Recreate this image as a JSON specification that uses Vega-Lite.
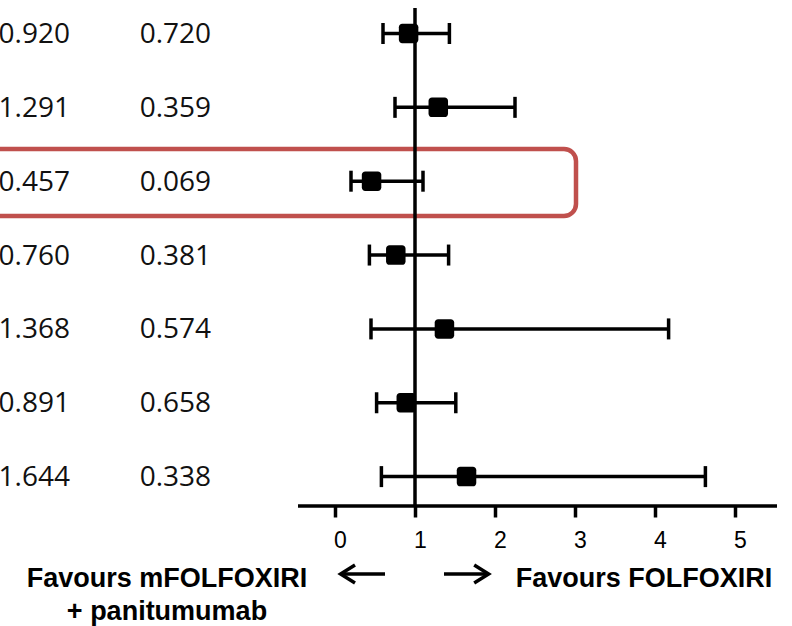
{
  "$schema": "https://vega.github.io/schema/vega-lite/v6.json",
  "width": 792,
  "height": 506,
  "autosize": "none",
  "padding": {"left": 0, "top": 0, "right": 0, "bottom": 120},
  "background": "white",
  "config": {"view": {"stroke": null}},
  "data": {"values": [
    {"row": 1, "hr": 0.920, "lo": 0.60, "hi": 1.43, "hrText": "0.920", "pText": "0.720"},
    {"row": 2, "hr": 1.291, "lo": 0.75, "hi": 2.25, "hrText": "1.291", "pText": "0.359"},
    {"row": 3, "hr": 0.457, "lo": 0.20, "hi": 1.10, "hrText": "0.457", "pText": "0.069"},
    {"row": 4, "hr": 0.760, "lo": 0.43, "hi": 1.42, "hrText": "0.760", "pText": "0.381"},
    {"row": 5, "hr": 1.368, "lo": 0.45, "hi": 4.17, "hrText": "1.368", "pText": "0.574"},
    {"row": 6, "hr": 0.891, "lo": 0.52, "hi": 1.51, "hrText": "0.891", "pText": "0.658"},
    {"row": 7, "hr": 1.644, "lo": 0.58, "hi": 4.63, "hrText": "1.644", "pText": "0.338"}
  ]},
  "layer": [
    {
      "transform": [{"filter": "datum.row == 3"}],
      "mark": {"type": "rect", "fill": null, "fillOpacity": 0, "stroke": "#C0504D", "strokeWidth": 4.5, "cornerRadius": 12},
      "encoding": {
        "x": {"datum": -5, "type": "quantitative", "scale": {"domain": [-4.1875, 5.7125], "nice": false, "zero": false}, "axis": {"values": [0, 1, 2, 3, 4, 5], "format": "d", "domain": false, "grid": false, "title": null, "tickSize": 11, "tickWidth": 3.5, "tickColor": "black", "labelFont": "Liberation Sans", "labelFontSize": 23, "labelColor": "black", "labelPadding": 12, "labelOffset": 5}},
        "x2": {"datum": 3.0125},
        "y": {"datum": 2.564, "type": "quantitative", "scale": {"domain": [0.5464, 7.398], "nice": false, "zero": false, "reverse": true}, "axis": null},
        "y2": {"datum": 3.471}
      }
    },
    {
      "data": {"values": [{}]},
      "mark": {"type": "rule", "color": "black", "strokeWidth": 3.5},
      "encoding": {
        "x": {"datum": 1, "type": "quantitative"},
        "y": {"datum": 0.6547, "type": "quantitative"},
        "y2": {"datum": 7.398}
      }
    },
    {
      "data": {"values": [{}]},
      "mark": {"type": "rule", "color": "black", "strokeWidth": 3.5},
      "encoding": {
        "x": {"datum": -0.4625, "type": "quantitative"},
        "x2": {"datum": 5.525},
        "y": {"datum": 7.398, "type": "quantitative"}
      }
    },
    {
      "mark": {"type": "rule", "color": "black", "strokeWidth": 3.5},
      "encoding": {
        "x": {"field": "lo", "type": "quantitative"},
        "x2": {"field": "hi"},
        "y": {"field": "row", "type": "quantitative"}
      }
    },
    {
      "mark": {"type": "tick", "orient": "vertical", "color": "black", "thickness": 3.5, "size": 21, "opacity": 1},
      "encoding": {
        "x": {"field": "lo", "type": "quantitative"},
        "y": {"field": "row", "type": "quantitative"}
      }
    },
    {
      "mark": {"type": "tick", "orient": "vertical", "color": "black", "thickness": 3.5, "size": 21, "opacity": 1},
      "encoding": {
        "x": {"field": "hi", "type": "quantitative"},
        "y": {"field": "row", "type": "quantitative"}
      }
    },
    {
      "mark": {"type": "point", "shape": "M-0.65,-1H0.65A0.35,0.35 0 0 1 1,-0.65V0.65A0.35,0.35 0 0 1 0.65,1H-0.65A0.35,0.35 0 0 1 -1,0.65V-0.65A0.35,0.35 0 0 1 -0.65,-1Z", "filled": true, "color": "black", "size": 380, "opacity": 1},
      "encoding": {
        "x": {"field": "hr", "type": "quantitative"},
        "y": {"field": "row", "type": "quantitative"}
      }
    },
    {
      "mark": {"type": "text", "font": "Open Sans", "fontSize": 28, "color": "#111", "align": "right", "baseline": "middle", "dy": 1.5},
      "encoding": {
        "x": {"datum": -3.3125, "type": "quantitative"},
        "y": {"field": "row", "type": "quantitative"},
        "text": {"field": "hrText"}
      }
    },
    {
      "mark": {"type": "text", "font": "Open Sans", "fontSize": 28, "color": "#111", "align": "left", "baseline": "middle", "dy": 1.5},
      "encoding": {
        "x": {"datum": -2.4415, "type": "quantitative"},
        "y": {"field": "row", "type": "quantitative"},
        "text": {"field": "pText"}
      }
    },
    {
      "data": {"values": [{"label": ["Favours mFOLFOXIRI", "+ panitumumab"]}]},
      "mark": {"type": "text", "font": "Liberation Sans", "fontWeight": "bold", "fontSize": 27, "color": "black", "align": "center", "baseline": "alphabetic", "lineHeight": 33},
      "encoding": {
        "x": {"datum": -2.1, "type": "quantitative"},
        "y": {"datum": 8.499, "type": "quantitative"},
        "text": {"field": "label"}
      }
    },
    {
      "data": {"values": [{"label": "Favours FOLFOXIRI"}]},
      "mark": {"type": "text", "font": "Liberation Sans", "fontWeight": "bold", "fontSize": 27, "color": "black", "align": "center", "baseline": "alphabetic"},
      "encoding": {
        "x": {"datum": 3.8625, "type": "quantitative"},
        "y": {"datum": 8.491, "type": "quantitative"},
        "text": {"field": "label"}
      }
    },
    {
      "data": {"values": [{}]},
      "mark": {"type": "rule", "color": "black", "strokeWidth": 3.5},
      "encoding": {
        "x": {"datum": 0.09, "type": "quantitative"},
        "x2": {"datum": 0.625},
        "y": {"datum": 8.319, "type": "quantitative"}
      }
    },
    {
      "data": {"values": [{}]},
      "mark": {"type": "point", "shape": "M0.8,-1L-0.8,0L0.8,1", "filled": false, "stroke": "black", "strokeWidth": 3.5, "strokeJoin": "miter", "strokeCap": "butt", "size": 324, "opacity": 1},
      "encoding": {
        "x": {"datum": 0.16, "type": "quantitative"},
        "y": {"datum": 8.319, "type": "quantitative"}
      }
    },
    {
      "data": {"values": [{}]},
      "mark": {"type": "rule", "color": "black", "strokeWidth": 3.5},
      "encoding": {
        "x": {"datum": 1.3625, "type": "quantitative"},
        "x2": {"datum": 1.9},
        "y": {"datum": 8.319, "type": "quantitative"}
      }
    },
    {
      "data": {"values": [{}]},
      "mark": {"type": "point", "shape": "M-0.8,-1L0.8,0L-0.8,1", "filled": false, "stroke": "black", "strokeWidth": 3.5, "strokeJoin": "miter", "strokeCap": "butt", "size": 324, "opacity": 1},
      "encoding": {
        "x": {"datum": 1.83, "type": "quantitative"},
        "y": {"datum": 8.319, "type": "quantitative"}
      }
    }
  ]
}
